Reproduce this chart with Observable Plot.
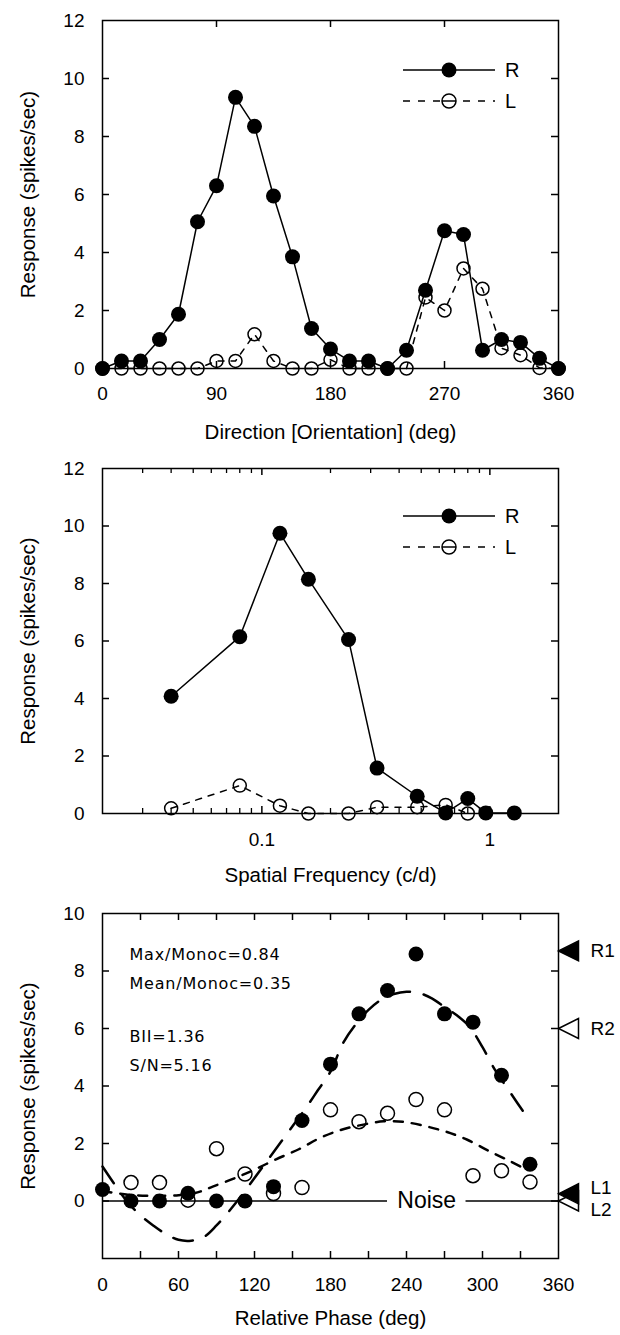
<!DOCTYPE html>
<html><head><meta charset="utf-8">
<script src="https://cdn.jsdelivr.net/npm/d3@7"></script>
<script src="https://cdn.jsdelivr.net/npm/@observablehq/plot@0.6"></script>
<style>
body{margin:0;background:#fff;}
#wrap{position:relative;width:620px;height:1335px;overflow:hidden;background:#fff;}
#wrap svg{display:block;}
</style></head><body><div id="wrap"></div>
<script>
// ---------- data ----------
const seriesNames = ["R", "L"];

// Panel 1: direction tuning
const dirAngles = [0,15,30,45,60,75,90,105,120,135,150,165,180,195,210,225,240,255,270,285,300,315,330,345,360];
const dirR = [0,0.26,0.26,1.0,1.87,5.06,6.3,9.35,8.35,5.95,3.85,1.38,0.67,0.26,0.26,0,0.63,2.7,4.75,4.62,0.63,1.0,0.9,0.35,0];
const dirL = [0,0,0,0,0,0,0.26,0.26,1.18,0.26,0,0,0.3,0,0,0,0,2.45,2.0,3.45,2.75,0.7,0.46,0.02,0];
const dirXTicks = [0,90,180,270,360];
const dirYTicks = [0,2,4,6,8,10,12];
const dirXTitle = "Direction [Orientation] (deg)";

// Panel 2: spatial frequency tuning
const sfFreqR = [0.04,0.08,0.12,0.16,0.24,0.32,0.48,0.64,0.8,0.96,1.28];
const sfR = [4.08,6.15,9.75,8.15,6.05,1.58,0.6,0.02,0.52,0.02,0.02];
const sfFreqL = [0.04,0.08,0.12,0.16,0.24,0.32,0.48,0.64,0.8];
const sfL = [0.18,0.97,0.27,0,0,0.22,0.22,0.3,0];
const sfXTicks = [0.1,1];
const sfMinorTicks = [0.03,0.04,0.05,0.06,0.07,0.08,0.09,0.2,0.3,0.4,0.5,0.6,0.7,0.8,0.9];
const sfYTicks = [0,2,4,6,8,10,12];
const sfXTitle = "Spatial Frequency (c/d)";

// Panel 3: relative phase
const phase = [0,22.5,45,67.5,90,112.5,135,157.5,180,202.5,225,247.5,270,292.5,315,337.5];
const phaseR = [0.4,0,0,0.27,0,0,0.5,2.8,4.76,6.51,7.32,8.59,6.51,6.22,4.37,1.28];
const phaseLx = [22.5,45,67.5,90,112.5,135,157.5,180,202.5,225,247.5,270,292.5,315,337.5];
const phaseL = [0.64,0.64,0.03,1.82,0.94,0.26,0.47,3.17,2.76,3.05,3.53,3.17,0.88,1.05,0.66];
// fitted curves
const fitRx = [0,10,20,30,40,50,60,70,80,90,100,110,120,130,140,150,160,170,180,190,200,210,220,230,240,250,260,270,280,290,300,310,320,330,337.5];
const fitRy = [1.2,0.55,-0.05,-0.5,-0.85,-1.15,-1.35,-1.38,-1.25,-0.85,-0.35,0.2,0.8,1.4,2.0,2.6,3.2,3.85,4.5,5.5,6.15,6.65,7.0,7.2,7.28,7.23,7.05,6.75,6.45,6.05,5.35,4.55,3.9,3.25,2.8];
const fitLx = [0,20,40,60,75,87,103,118,137,155,172,188,204,222,238,257,272,288,306,322,330];
const fitLy = [0.35,0.22,0.18,0.2,0.3,0.5,0.77,1.05,1.45,1.8,2.2,2.47,2.64,2.77,2.75,2.58,2.4,2.13,1.72,1.38,1.2];
const phaseXTicks = [0,60,120,180,240,300,360];
const phaseMinorX = [30,60,90,120,150,180,210,240,270,300,330];
const phaseYTicks = [0,2,4,6,8,10];
const phaseYMarks = [0,2,4,6,8];
const phaseXTitle = "Relative Phase (deg)";
const noiseLevel = 0;
const noiseLabel = "Noise";
const noiseLabelAt = 256;
const noiseSegments = [[0,225],[287,360]];
const statsA = ["Max/Monoc=0.84","Mean/Monoc=0.35"];
const statsB = ["BII=1.36","S/N=5.16"];
const monocLabels = ["R2","L2","R1","L1"];
const monocValues = [6.0,0.0,8.7,0.25];
const monocFilled = [false,false,true,true];
const monocLabelShift = [0,9,0,-6];
const yTitle = "Response (spikes/sec)";

// ---------- layout ----------
const W = 620, ML = 102, MR = 62, FW = W - ML - MR;
const FONT = "Liberation Sans, Arial, Helvetica, sans-serif";
const wrap = document.getElementById("wrap");

function inTicks(xT, yT, fh, len) {
  return [
    Plot.tickX(xT, {x: d => d, insetTop: fh - len, stroke: "black", strokeWidth: 1.5}),
    Plot.tickX(xT, {x: d => d, insetBottom: fh - len, stroke: "black", strokeWidth: 1.5}),
    Plot.tickY(yT, {y: d => d, insetRight: FW - len, stroke: "black", strokeWidth: 1.5}),
    Plot.tickY(yT, {y: d => d, insetLeft: FW - len, stroke: "black", strokeWidth: 1.5})
  ];
}
function titles(xTitle, dyTitle) {
  return [
    Plot.text([xTitle], {text: d => d, frameAnchor: "bottom", dy: dyTitle, lineAnchor: "middle", textAnchor: "middle", fontSize: 20.5}),
    Plot.text([yTitle], {text: d => d, frameAnchor: "left", dx: -74, rotate: -90, lineAnchor: "middle", textAnchor: "middle", fontSize: 20.5})
  ];
}
const baseStyle = {fontFamily: FONT, fontSize: "19px", color: "black", background: "white", overflow: "visible"};

// Panel 1
const p1R = dirAngles.map((a, i) => ({a, v: dirR[i]}));
const p1L = dirAngles.map((a, i) => ({a, v: dirL[i]}));
const H1 = 440, MT1 = 20, MB1 = 72;
const plot1 = Plot.plot({
  width: W, height: H1, marginLeft: ML, marginRight: MR, marginTop: MT1, marginBottom: MB1,
  style: baseStyle,
  x: {domain: [0, 360], ticks: dirXTicks, tickSize: 0, tickPadding: 18, label: null},
  y: {domain: [0, 12], ticks: dirYTicks, tickSize: 0, tickPadding: 18, label: null},
  marks: [
    ...inTicks(dirXTicks.slice(1, -1), dirYTicks.slice(1, -1), H1 - MT1 - MB1, 7),
    Plot.line(p1L, {x: "a", y: "v", stroke: "black", strokeWidth: 1.5, strokeDasharray: "6,7"}),
    Plot.line(p1R, {x: "a", y: "v", stroke: "black", strokeWidth: 1.5}),
    Plot.dot(p1L, {x: "a", y: "v", r: 6.5, fill: "none", stroke: "black", strokeWidth: 1.5}),
    Plot.dot(p1R, {x: "a", y: "v", r: 7.5, fill: "black", stroke: "none"}),
    Plot.frame({stroke: "black", strokeWidth: 1.5}),
    ...titles(dirXTitle, 64)
  ]
});
wrap.appendChild(plot1);

// Panel 2
const p2R = sfFreqR.map((f, i) => ({f, v: sfR[i]}));
const p2L = sfFreqL.map((f, i) => ({f, v: sfL[i]}));
const H2 = 445, MT2 = 28, MB2 = 72, FH2 = H2 - MT2 - MB2;
const plot2 = Plot.plot({
  width: W, height: H2, marginLeft: ML, marginRight: MR, marginTop: MT2, marginBottom: MB2,
  style: baseStyle,
  x: {type: "log", domain: [0.02, 2], ticks: sfXTicks, tickFormat: d => String(d), tickSize: 0, tickPadding: 19, label: null},
  y: {domain: [0, 12], ticks: sfYTicks, tickSize: 0, tickPadding: 18, label: null},
  marks: [
    ...inTicks(sfXTicks, sfYTicks.slice(1, -1), FH2, 7),
    Plot.tickX(sfMinorTicks, {x: d => d, insetTop: FH2 - 5, stroke: "black", strokeWidth: 1.3}),
    Plot.tickX(sfMinorTicks, {x: d => d, insetBottom: FH2 - 5, stroke: "black", strokeWidth: 1.3}),
    Plot.line(p2L, {x: "f", y: "v", stroke: "black", strokeWidth: 1.5, strokeDasharray: "6,7"}),
    Plot.line(p2R, {x: "f", y: "v", stroke: "black", strokeWidth: 1.5}),
    Plot.dot(p2L, {x: "f", y: "v", r: 6.5, fill: "none", stroke: "black", strokeWidth: 1.5}),
    Plot.dot(p2R, {x: "f", y: "v", r: 7.5, fill: "black", stroke: "none"}),
    Plot.frame({stroke: "black", strokeWidth: 1.5}),
    ...titles(sfXTitle, 62)
  ]
});
wrap.appendChild(plot2);

// Panel 3
const p3R = phase.map((p, i) => ({p, v: phaseR[i]}));
const p3L = phaseLx.map((p, i) => ({p, v: phaseL[i]}));
const fitR = fitRx.map((p, i) => ({p, v: fitRy[i]}));
const fitL = fitLx.map((p, i) => ({p, v: fitLy[i]}));
const monoc = monocLabels.map((label, i) => ({label, v: monocValues[i], filled: monocFilled[i], shift: monocLabelShift[i]}));
const leftTriangle = {
  draw(ctx, size) {
    const r = Math.sqrt(size / Math.PI);
    ctx.moveTo(0, 0);
    ctx.lineTo(2 * r, -r);
    ctx.lineTo(2 * r, r);
    ctx.closePath();
  }
};
const H3 = 450, MT3 = 28, MB3 = 77, FH3 = H3 - MT3 - MB3;
const xMax3 = 360;
const monocTextMarks = Array.from(d3.group(monoc, d => d.shift), ([shift, rows]) =>
  Plot.text(rows, {x: () => xMax3, y: "v", text: "label", dx: 32, dy: shift, textAnchor: "start", fontSize: 19}));
const plot3 = Plot.plot({
  width: W, height: H3, marginLeft: ML, marginRight: MR, marginTop: MT3, marginBottom: MB3,
  style: baseStyle,
  x: {domain: [0, xMax3], ticks: phaseXTicks, tickSize: 0, tickPadding: 19, label: null},
  y: {domain: [-2, 10], ticks: phaseYTicks, tickSize: 0, tickPadding: 18, label: null},
  marks: [
    ...inTicks(phaseMinorX, phaseYMarks, FH3, 7),
    Plot.ruleY(noiseSegments, {y: () => noiseLevel, x1: d => d[0], x2: d => d[1], stroke: "black", strokeWidth: 1.5}),
    Plot.text([noiseLabel], {text: d => d, x: noiseLabelAt, y: noiseLevel, fontSize: 23}),
    Plot.line(fitL, {x: "p", y: "v", curve: "catmull-rom", stroke: "black", strokeWidth: 2.5, strokeDasharray: "9,9"}),
    Plot.line(fitR, {x: "p", y: "v", curve: "catmull-rom", stroke: "black", strokeWidth: 2.5, strokeDasharray: "20,14"}),
    Plot.dot(p3L, {x: "p", y: "v", r: 7, fill: "none", stroke: "black", strokeWidth: 1.5}),
    Plot.dot(p3R, {x: "p", y: "v", r: 7.5, fill: "black", stroke: "none"}),
    Plot.frame({stroke: "black", strokeWidth: 1.5}),
    Plot.dot(monoc, {x: () => xMax3, y: "v", symbol: leftTriangle, r: 10, fill: d => d.filled ? "black" : "white", stroke: "black", strokeWidth: 1.5}),
    ...monocTextMarks,
    Plot.text([statsA.join("\n")], {text: d => d, frameAnchor: "top-left", dx: 27, dy: 26, lineAnchor: "top", textAnchor: "start", lineHeight: 1.8, fontSize: 16, fontFamily: "DejaVu Sans"}),
    Plot.text([statsB.join("\n")], {text: d => d, frameAnchor: "top-left", dx: 27, dy: 108, lineAnchor: "top", textAnchor: "start", lineHeight: 1.8, fontSize: 16, fontFamily: "DejaVu Sans"}),
    ...titles(phaseXTitle, 60)
  ]
});
wrap.appendChild(plot3);
d3.select(plot3).selectAll("text, tspan").filter(function() { return /Monoc|BII|S\/N/.test(this.textContent); }).style("letter-spacing", "0.8px");

// Legends (overlay)
const ov = d3.select(wrap).append("svg")
  .attr("width", W).attr("height", 1335)
  .style("position", "absolute").style("left", "0px").style("top", "0px").style("pointer-events", "none");
function legend(y0) {
  const g = ov.append("g").attr("font-family", FONT).attr("font-size", 20);
  const yR = y0, yL = y0 + 31;
  g.append("line").attr("x1", 403).attr("x2", 495).attr("y1", yR).attr("y2", yR).attr("stroke", "black").attr("stroke-width", 1.5);
  g.append("circle").attr("cx", 449).attr("cy", yR).attr("r", 7.5).attr("fill", "black");
  g.append("text").attr("x", 505).attr("y", yR).attr("dy", "0.35em").text(seriesNames[0]);
  g.append("line").attr("x1", 403).attr("x2", 495).attr("y1", yL).attr("y2", yL).attr("stroke", "black").attr("stroke-width", 1.5).attr("stroke-dasharray", "7,8");
  g.append("circle").attr("cx", 449).attr("cy", yL).attr("r", 7).attr("fill", "white").attr("stroke", "black").attr("stroke-width", 1.5);
  g.append("line").attr("x1", 442).attr("x2", 456).attr("y1", yL).attr("y2", yL).attr("stroke", "black").attr("stroke-width", 1.5);
  g.append("text").attr("x", 505).attr("y", yL).attr("dy", "0.35em").text(seriesNames[1]);
}
legend(70);
legend(516);
</script>
</body></html>
